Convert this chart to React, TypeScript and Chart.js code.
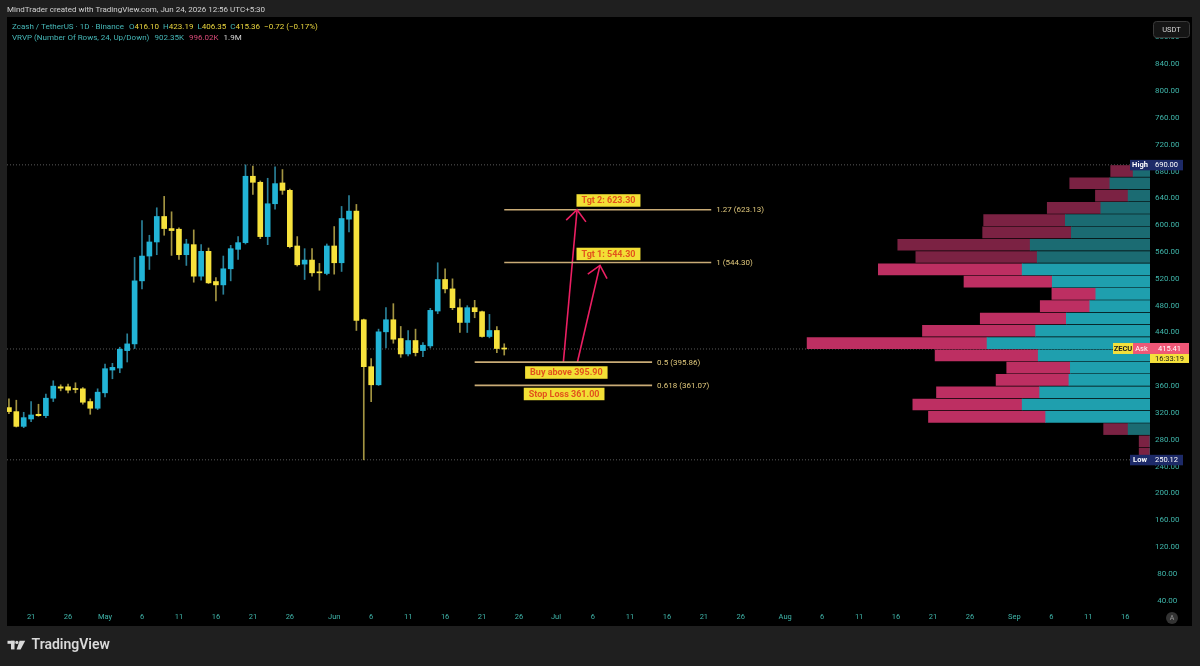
import React, { useEffect, useRef } from "react";
import { Chart, registerables } from "chart.js";

Chart.register(...registerables);

// ---------------- data ----------------
const FIRST_CANDLE_DATE = "2026-04-18";
const AXIS_ORIGIN_DATE = "2026-04-21";

const opens = [
  328, 322, 300, 311, 318, 316, 342, 359, 359, 356,
  356, 337, 327, 350, 384, 387, 413, 423, 517, 554,
  575, 613, 595, 594, 556, 571, 524, 561, 516, 511,
  535, 564, 574, 673, 664, 583, 632, 663, 652, 569,
  542, 548, 530, 528, 569, 544, 609, 621, 459, 389,
  362, 441, 459, 431, 408, 428, 413, 420, 472, 519,
  505, 477, 455, 477, 471, 434, 443, 416.1,
];
const highs = [
  341, 339, 321, 337, 333, 348, 368, 362, 363, 365,
  358, 341, 356, 393, 394, 418, 438, 552, 607, 585,
  626, 643, 620, 596, 579, 593, 571, 566, 522, 554,
  570, 583, 690, 688, 666, 670, 687, 683, 654, 583,
  565, 565, 543, 572, 598, 628, 644, 631, 460, 401,
  445, 477, 483, 449, 443, 445, 425, 476, 544, 535,
  520, 490, 480, 488, 472, 467, 449, 423.19,
];
const lows = [
  319, 299, 298, 307, 315, 313, 337, 353, 350, 350,
  333, 318, 325, 344, 371, 380, 396, 416, 505, 534,
  556, 585, 555, 549, 540, 515, 518, 513, 487, 497,
  517, 549, 572, 646, 580, 571, 624, 646, 566, 539,
  519, 524, 503, 526, 527, 531, 590, 443, 250.12, 337,
  361, 417, 424, 403, 405, 405, 404, 417, 468, 499,
  474, 440, 440, 462, 433, 432, 410, 406.35,
];
const closes = [
  322, 300, 313, 317, 316, 342, 360, 357, 354, 355,
  336, 327, 351, 386, 388, 415, 423, 517, 554, 575,
  613, 595, 592, 556, 572, 524, 561, 514, 511, 535,
  565, 574, 673, 664, 583, 632, 662, 652, 568, 541,
  548, 529, 529, 569, 544, 610, 621, 458, 389, 362,
  441, 459, 430, 408, 428, 410, 421, 473, 519, 505,
  477, 455, 477, 471, 434, 443, 416.08, 415.36,
];

const tickDates = [
  "2026-04-21", "2026-04-26", "2026-05-01", "2026-05-06", "2026-05-11", "2026-05-16",
  "2026-05-21", "2026-05-26", "2026-06-01", "2026-06-06", "2026-06-11", "2026-06-16",
  "2026-06-21", "2026-06-26", "2026-07-01", "2026-07-06", "2026-07-11", "2026-07-16",
  "2026-07-21", "2026-07-26", "2026-08-01", "2026-08-06", "2026-08-11", "2026-08-16",
  "2026-08-21", "2026-08-26", "2026-09-01", "2026-09-06", "2026-09-11", "2026-09-16",
];
const tickLabels = [
  "21", "26", "May", "6", "11", "16", "21", "26", "Jun", "6", "11", "16", "21", "26", "Jul",
  "6", "11", "16", "21", "26", "Aug", "6", "11", "16", "21", "26", "Sep", "6", "11", "16",
];

// volume profile (rows listed from the top, in thousands)
const profileHigh = 690.0;
const profileLow = 250.12;
const profileUpK = [
  8.4, 20.0, 10.9, 24.5, 42.2, 39.2, 59.7, 56.2, 63.7, 48.7, 27.0, 30.0,
  41.7, 57.0, 81.2, 55.7, 39.7, 40.4, 55.0, 63.7, 52.0, 10.9, 0, 0,
];
const profileDownK = [
  11.2, 20.0, 16.3, 26.7, 40.7, 44.2, 66.0, 60.5, 71.7, 44.0, 21.9, 24.7,
  42.9, 56.4, 89.7, 51.4, 31.7, 36.3, 51.4, 54.5, 58.4, 12.2, 5.4, 5.4,
];
const valueAreaRows = [8, 20];

const lastPrice = 415.41;
const countdownText = "16:33:19";

const fibLevels = [1.27, 1, 0.5, 0.618];
const fibPrices = [623.13, 544.3, 395.86, 361.07];
const fibStartDates = ["2026-06-24", "2026-06-24", "2026-06-20", "2026-06-20"];
const fibEndDates = ["2026-07-22", "2026-07-22", "2026-07-14", "2026-07-14"];

const arrowFromDay = [72.0, 73.9];
const arrowFromPrice = [396, 396];
const arrowToDay = [73.85, 76.95];
const arrowToPrice = [623, 540];

const noteTexts = ["Tgt 2: 623.30", "Tgt 1: 544.30", "Buy above 395.90", "Stop Loss 361.00"];
const noteDays = [78.1, 78.1, 72.4, 72.1];
const notePrices = [636.9, 557.1, 380.3, 348.3];

// ---------------- view / style ----------------
const X_MIN = -3.26;
const X_MAX = 151.35;
const Y_MIN = 33.6;
const Y_MAX = 910.5;
const PROFILE_WIDTH_SHARE = 0.3;

const FONT = "Roboto, 'Liberation Sans', Arial, sans-serif";
const FRAME = "#1f1f1f";
const AXIS_TEXT = "#3fb5aa";
const BULL = "#22b4d6";
const BEAR = "#f7e23c";
const BULL_WICK = "#2a8199";
const BEAR_WICK = "#a39442";
const VA_UP = "#1f9fae";
const VA_DOWN = "#bd2f62";
const OUT_UP = "#1b6b72";
const OUT_DOWN = "#7b2243";
const FIB = "#c9ab76";
const FIB_TEXT = "#e0c87c";
const ARROW = "#ec1f63";
const NOTE_BG = "#f2df35";
const NOTE_TEXT = "#e2541c";
const DOT_LINE = "#5a5a5a";

const dayOf = (s: string) => {
  const [y, m, d] = s.split("-").map(Number);
  const [oy, om, od] = AXIS_ORIGIN_DATE.split("-").map(Number);
  return Math.round((Date.UTC(y, m - 1, d) - Date.UTC(oy, om - 1, od)) / 86400000);
};

export default function App() {
  const ref = useRef<HTMLCanvasElement | null>(null);

  useEffect(() => {
    const canvas = ref.current;
    if (!canvas) return;

    const startDay = dayOf(FIRST_CANDLE_DATE);
    const candleDays = opens.map((_, i) => startDay + i);
    const tickDays = tickDates.map(dayOf);
    const labelByDay = new Map<number, string>();
    tickDays.forEach((d, i) => labelByDay.set(d, tickLabels[i]));

    const rowStep = (profileHigh - profileLow) / profileUpK.length;
    const rowCenter = (i: number) => profileHigh - (i + 0.5) * rowStep;
    const inVA = (i: number) => i >= valueAreaRows[0] && i <= valueAreaRows[1];
    const maxTotal = Math.max(...profileUpK.map((u, i) => u + profileDownK[i]));
    const profileMax = maxTotal / PROFILE_WIDTH_SHARE;

    const isUp = (i: number) => closes[i] >= opens[i];

    const hLine = (price: number) => [
      { x: X_MIN, y: price },
      { x: X_MAX, y: price },
    ];

    const datasets: any[] = [
      {
        type: "bar",
        label: "bodies",
        order: 0,
        grouped: false,
        xAxisID: "x",
        yAxisID: "y",
        data: candleDays.map((d, i) => ({ x: d, y: [opens[i], closes[i]] })),
        backgroundColor: (c: any) => (isUp(c.dataIndex) ? BULL : BEAR),
        barThickness: 5,
        minBarLength: 1,
        borderWidth: 0,
      },
      {
        type: "bar",
        label: "wicks",
        order: 1,
        grouped: false,
        xAxisID: "x",
        yAxisID: "y",
        data: candleDays.map((d, i) => ({ x: d, y: [lows[i], highs[i]] })),
        backgroundColor: (c: any) => (isUp(c.dataIndex) ? BULL_WICK : BEAR_WICK),
        barThickness: 1,
        borderWidth: 0,
      },
      ...fibPrices.map((p, i) => ({
        type: "line",
        label: "fib" + i,
        order: 2,
        xAxisID: "x",
        yAxisID: "y",
        data: [
          { x: dayOf(fibStartDates[i]), y: p },
          { x: dayOf(fibEndDates[i]), y: p },
        ],
        borderColor: FIB,
        borderWidth: 1.6,
        pointRadius: 0,
        fill: false,
      })),
      ...arrowFromDay.map((d, i) => ({
        type: "line",
        label: "arrow" + i,
        order: 2,
        xAxisID: "x",
        yAxisID: "y",
        data: [
          { x: d, y: arrowFromPrice[i] },
          { x: arrowToDay[i], y: arrowToPrice[i] },
        ],
        borderColor: ARROW,
        borderWidth: 1.6,
        pointRadius: 0,
        fill: false,
      })),
      {
        type: "bar",
        label: "vp-up",
        order: 3,
        indexAxis: "y",
        grouped: false,
        xAxisID: "xv",
        yAxisID: "y",
        data: profileUpK.map((u, i) => ({ x: [0, u], y: rowCenter(i) })),
        backgroundColor: (c: any) => (inVA(c.dataIndex) ? VA_UP : OUT_UP),
        barThickness: 11,
        borderWidth: 0,
      },
      {
        type: "bar",
        label: "vp-down",
        order: 3,
        indexAxis: "y",
        grouped: false,
        xAxisID: "xv",
        yAxisID: "y",
        data: profileDownK.map((dn, i) => ({ x: [profileUpK[i], profileUpK[i] + dn], y: rowCenter(i) })),
        backgroundColor: (c: any) => (inVA(c.dataIndex) ? VA_DOWN : OUT_DOWN),
        barThickness: 11,
        borderWidth: 0,
      },
      ...[profileHigh, profileLow, lastPrice].map((p, i) => ({
        type: "line",
        label: "dots" + i,
        order: 4,
        xAxisID: "x",
        yAxisID: "y",
        data: hLine(p),
        borderColor: DOT_LINE,
        borderWidth: 1,
        borderDash: [1, 2],
        pointRadius: 0,
        fill: false,
      })),
    ];

    const framePlugin = {
      id: "frame",
      beforeDraw(chart: any) {
        const { ctx, chartArea } = chart;
        const right = chart.scales.y.right;
        const bottom = chart.scales.x.bottom;
        ctx.save();
        ctx.fillStyle = FRAME;
        ctx.fillRect(0, 0, chart.width, chart.height);
        ctx.fillStyle = "#000000";
        ctx.fillRect(chartArea.left, chartArea.top, right - chartArea.left, bottom - chartArea.top);
        ctx.restore();
      },
      afterDraw(chart: any) {
        const { ctx, chartArea } = chart;
        const xs = chart.scales.x;
        const ys = chart.scales.y;
        const px = (d: number) => xs.getPixelForValue(d);
        const py = (v: number) => ys.getPixelForValue(v);
        ctx.save();

        // arrow heads
        ctx.strokeStyle = ARROW;
        ctx.lineWidth = 1.6;
        arrowFromDay.forEach((d, i) => {
          const x0 = px(d), y0 = py(arrowFromPrice[i]);
          const x1 = px(arrowToDay[i]), y1 = py(arrowToPrice[i]);
          const a = Math.atan2(y1 - y0, x1 - x0);
          const len = 15, ang = 0.72;
          ctx.beginPath();
          ctx.moveTo(x1 - len * Math.cos(a - ang), y1 - len * Math.sin(a - ang));
          ctx.lineTo(x1, y1);
          ctx.lineTo(x1 - len * Math.cos(a + ang), y1 - len * Math.sin(a + ang));
          ctx.stroke();
        });

        // fib labels
        ctx.font = `8px ${FONT}`;
        ctx.fillStyle = FIB_TEXT;
        ctx.textBaseline = "middle";
        ctx.textAlign = "left";
        fibPrices.forEach((p, i) => {
          ctx.fillText(`${fibLevels[i]} (${p.toFixed(2)})`, px(dayOf(fibEndDates[i])) + 5, py(p) + 0.5);
        });

        // note boxes
        ctx.font = `bold 9px ${FONT}`;
        noteTexts.forEach((t, i) => {
          const w = ctx.measureText(t).width + 10;
          const h = 12.5;
          const cx = px(noteDays[i]);
          const cy = py(notePrices[i]);
          ctx.fillStyle = NOTE_BG;
          ctx.fillRect(cx - w / 2, cy - h / 2, w, h);
          ctx.fillStyle = NOTE_TEXT;
          ctx.textAlign = "center";
          ctx.fillText(t, cx, cy + 0.5);
        });

        // price-scale tags
        const tag = (x: number, y: number, w: number, h: number, bg: string, text: string, fg: string, bold = false) => {
          ctx.fillStyle = bg;
          ctx.fillRect(x, y, w, h);
          ctx.fillStyle = fg;
          ctx.font = `${bold ? "bold " : ""}7.5px ${FONT}`;
          ctx.textAlign = "center";
          ctx.textBaseline = "middle";
          ctx.fillText(text, x + w / 2, y + h / 2 + 0.5);
        };
        const axisL = chartArea.right;
        const yH = py(profileHigh);
        tag(axisL - 20, yH - 5, 20, 10.5, "#1d2a68", "High", "#ffffff", true);
        tag(axisL, yH - 5, 33, 10.5, "#1d2a68", profileHigh.toFixed(2), "#ffffff");
        const yL = py(profileLow);
        tag(axisL - 20, yL - 5, 20, 10.5, "#1d2a68", "Low", "#ffffff", true);
        tag(axisL, yL - 5, 33, 10.5, "#1d2a68", profileLow.toFixed(2), "#ffffff");
        const yP = py(lastPrice);
        tag(axisL - 37, yP - 6, 20, 11, "#f5e03c", "ZECU", "#1a1a1a", true);
        tag(axisL - 17, yP - 6, 17, 11, "#ef5777", "Ask", "#ffffff");
        tag(axisL, yP - 6, 39, 11, "#ef5777", lastPrice.toFixed(2), "#ffffff");
        tag(axisL, yP + 5, 39, 9, "#f5e03c", countdownText, "#1a1a1a");

        // USDT button
        ctx.fillStyle = "#151515";
        ctx.strokeStyle = "#3a3a3a";
        ctx.lineWidth = 1;
        ctx.beginPath();
        (ctx as any).roundRect(1153.5, 21.5, 36, 16, 3);
        ctx.fill();
        ctx.stroke();
        ctx.fillStyle = "#d6d6d6";
        ctx.font = `7.5px ${FONT}`;
        ctx.textAlign = "center";
        ctx.fillText("USDT", 1171.5, 30);

        // auto-scale button
        ctx.fillStyle = "#333333";
        ctx.beginPath();
        ctx.arc(1172, 618, 6, 0, Math.PI * 2);
        ctx.fill();
        ctx.fillStyle = "#9a9a9a";
        ctx.font = `7px ${FONT}`;
        ctx.fillText("A", 1172, 618.5);

        // header line 1
        ctx.textAlign = "left";
        ctx.fillStyle = "#d2d2d2";
        ctx.font = `8px ${FONT}`;
        ctx.fillText("MindTrader created with TradingView.com, Jun 24, 2026 12:56 UTC+5:30", 7, 9.5);

        // header line 2 & 3
        const seg = (parts: [string, string, number][], x: number, y: number) => {
          ctx.font = `8px ${FONT}`;
          let cx = x;
          parts.forEach(([t, c, gap]) => {
            ctx.fillStyle = c;
            ctx.fillText(t, cx, y);
            cx += ctx.measureText(t).width + gap;
          });
        };
        const n = opens.length - 1;
        const chg = closes[n] - closes[n - 1];
        const pct = (chg / closes[n - 1]) * 100;
        const sgn = (v: number) => (v < 0 ? "\u2212" : "+") + Math.abs(v).toFixed(2);
        const HT = "#46b8b8";
        const HV = "#e9d53e";
        seg(
          [
            ["Zcash / TetherUS \u00b7 1D \u00b7 Binance", HT, 5],
            ["O", HT, 0], [opens[n].toFixed(2), HV, 4],
            ["H", HT, 0], [highs[n].toFixed(2), HV, 4],
            ["L", HT, 0], [lows[n].toFixed(2), HV, 4],
            ["C", HT, 0], [closes[n].toFixed(2), HV, 4],
            [`${sgn(chg)} (${sgn(pct)}%)`, HV, 0],
          ],
          12,
          27
        );
        seg(
          [
            ["VRVP (Number Of Rows, 24, Up/Down)", HT, 5],
            ["902.35K", HT, 5],
            ["996.02K", "#d84a78", 5],
            ["1.9M", "#d8d8d8", 0],
          ],
          12,
          38
        );

        // footer logo
        ctx.fillStyle = "#d9d9d9";
        ctx.fillRect(7.5, 640.8, 7, 3);
        ctx.fillRect(11, 640.8, 3.5, 8.6);
        ctx.beginPath();
        ctx.arc(16.9, 642.4, 1.6, 0, Math.PI * 2);
        ctx.fill();
        ctx.beginPath();
        ctx.moveTo(19.6, 640.8);
        ctx.lineTo(25.2, 640.8);
        ctx.lineTo(20.6, 649.4);
        ctx.lineTo(16.6, 649.4);
        ctx.closePath();
        ctx.fill();
        ctx.font = `600 14px ${FONT}`;
        ctx.textBaseline = "middle";
        ctx.fillText("TradingView", 31.5, 645.8);

        ctx.restore();
      },
    };

    const chart = new Chart(canvas, {
      type: "bar",
      data: { datasets },
      options: {
        responsive: false,
        animation: false,
        devicePixelRatio: 1,
        layout: { padding: { left: 7, top: 17, right: 8, bottom: 40 } },
        plugins: { legend: { display: false }, tooltip: { enabled: false } },
        scales: {
          x: {
            type: "linear",
            position: "bottom",
            min: X_MIN,
            max: X_MAX,
            offset: false,
            grid: { display: false, drawTicks: false, offset: false },
            border: { display: false },
            afterBuildTicks: (s: any) => {
              s.ticks = tickDays.map((v) => ({ value: v }));
            },
            afterFit: (s: any) => {
              s.height = 21;
            },
            ticks: {
              autoSkip: false,
              maxRotation: 0,
              minRotation: 0,
              padding: 8,
              color: AXIS_TEXT,
              font: { family: FONT, size: 7.5 },
              callback: (v: any) => labelByDay.get(Math.round(Number(v))) ?? "",
            },
          },
          xv: {
            type: "linear",
            display: false,
            reverse: true,
            min: 0,
            max: profileMax,
            offset: false,
            grid: { display: false },
          },
          y: {
            type: "linear",
            position: "right",
            min: Y_MIN,
            max: Y_MAX,
            offset: false,
            grid: { display: false, drawTicks: false, offset: false },
            border: { display: false },
            afterFit: (s: any) => {
              s.width = 42;
            },
            ticks: {
              stepSize: 40,
              includeBounds: false,
              crossAlign: "center",
              padding: 5,
              color: AXIS_TEXT,
              font: { family: FONT, size: 8 },
              callback: (v: any) => Number(v).toFixed(2),
            },
          },
        },
      } as any,
      plugins: [framePlugin],
    });

    return () => chart.destroy();
  }, []);

  return (
    <div style={{ position: "absolute", left: 0, top: 0, width: 1200, height: 666 }}>
      <canvas ref={ref} width={1200} height={666} style={{ display: "block" }} />
    </div>
  );
}
